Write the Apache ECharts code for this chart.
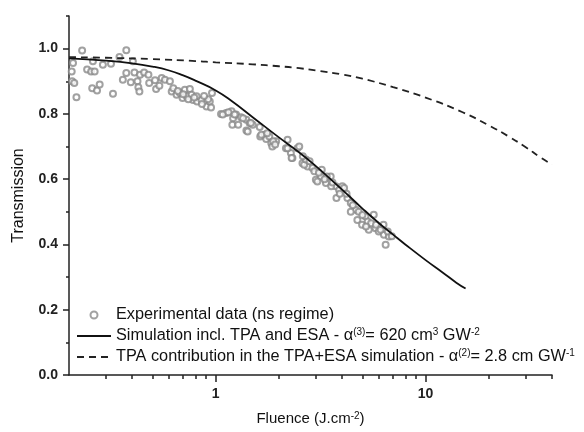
<!DOCTYPE html>
<html>
<head>
<meta charset="utf-8">
<script src="https://cdn.jsdelivr.net/npm/echarts@6/dist/echarts.min.js"></script>
<style>
  html, body { margin: 0; padding: 0; background: #fff; }
  #main { width: 584px; height: 432px; }
</style>
</head>
<body>
<div id="main"></div>
<script>
// experimental points (fluence in J/cm2, transmission)
let expFluence = [
  0.209, 0.206, 0.207, 0.212, 0.217, 0.231, 0.244, 0.255, 0.265, 0.258, 0.272, 0.28, 0.26, 0.29,
  0.317, 0.324, 0.348, 0.375, 0.361, 0.375, 0.394, 0.403, 0.41, 0.424, 0.428, 0.433, 0.436, 0.456,
  0.478, 0.482, 0.514, 0.52, 0.539, 0.553, 0.573, 0.605, 0.617, 0.628, 0.651, 0.675, 0.695, 0.713,
  0.727, 0.753, 0.767, 0.78, 0.815,
  0.96, 0.904, 0.937, 0.855, 0.81, 0.66, 0.70, 0.74, 0.79, 0.86, 0.92, 0.95, 0.88,
  1.06, 1.12, 1.19, 1.21, 1.2, 1.25, 1.32, 1.4, 1.4, 1.45, 1.5, 1.62, 1.63, 1.71, 1.74, 1.8, 1.84,
  1.94, 1.86, 2.2, 2.16, 2.28, 2.32, 2.45, 2.59, 2.74, 2.89, 3.0, 3.17, 3.35, 3.53, 3.73, 4.01,
  1.08, 1.15, 1.23, 1.28, 1.35, 1.42, 1.47, 1.65, 1.76, 1.88, 1.92, 2.2, 2.3, 2.5, 2.64, 2.69,
  2.95, 3.05, 3.2, 3.38, 3.55, 3.76, 3.87, 4.09, 4.24, 4.4, 4.73, 4.65, 4.98, 5.17, 5.36, 5.66,
  5.77, 5.98, 6.33, 6.45, 6.68,
  4.5, 4.8, 5.0, 5.3, 5.5, 5.8, 6.1, 6.3, 6.6, 6.9, 5.2, 4.4,
  2.6, 2.8, 3.1, 3.3, 3.6, 3.9, 4.2
];
let expTransmission = [
  0.956, 0.930, 0.900, 0.895, 0.851, 0.994, 0.936, 0.930, 0.930, 0.879, 0.872, 0.890, 0.961, 0.951,
  0.954, 0.862, 0.974, 0.995, 0.905, 0.925, 0.897, 0.961, 0.927, 0.900, 0.882, 0.869, 0.920, 0.927,
  0.920, 0.895, 0.903, 0.876, 0.886, 0.910, 0.905, 0.900, 0.869, 0.879, 0.859, 0.864, 0.849, 0.874,
  0.854, 0.876, 0.859, 0.843, 0.838,
  0.864, 0.823, 0.838, 0.843, 0.854, 0.870, 0.860, 0.845, 0.850, 0.830, 0.845, 0.820, 0.855,
  0.800, 0.803, 0.808, 0.787, 0.767, 0.798, 0.790, 0.782, 0.749, 0.772, 0.767, 0.760, 0.731, 0.736,
  0.723, 0.731, 0.710, 0.716, 0.700, 0.721, 0.695, 0.680, 0.665, 0.695, 0.649, 0.639, 0.634, 0.598,
  0.608, 0.588, 0.608, 0.578, 0.578,
  0.798, 0.805, 0.798, 0.767, 0.787, 0.746, 0.772, 0.736, 0.741, 0.716, 0.706, 0.695, 0.665, 0.700,
  0.644, 0.660, 0.624, 0.593, 0.629, 0.608, 0.578, 0.542, 0.567, 0.573, 0.542, 0.527, 0.475, 0.506,
  0.460, 0.486, 0.445, 0.491, 0.450, 0.440, 0.430, 0.399, 0.424,
  0.520, 0.500, 0.490, 0.470, 0.465, 0.460, 0.445, 0.460, 0.440, 0.425, 0.455, 0.500,
  0.670, 0.655, 0.620, 0.600, 0.590, 0.555, 0.555
];

// TPA + ESA simulation
let simFluence = [0.2, 0.3, 0.4, 0.5, 0.6, 0.7, 0.8, 1.0, 1.2, 1.5, 2.0, 2.5, 3.0, 4.0, 5.0, 6.0, 7.0, 8.0, 10, 12, 14, 15.5];
let simTransmission = [0.970, 0.963, 0.955, 0.945, 0.933, 0.918, 0.902, 0.872, 0.838, 0.790, 0.728, 0.682, 0.640, 0.568, 0.510, 0.465, 0.430, 0.400, 0.352, 0.315, 0.283, 0.265];

// TPA contribution only
let tpaFluence = [0.2, 0.3, 0.5, 0.8, 1.0, 1.5, 2.0, 2.5, 3.0, 4.0, 5.0, 7.0, 10, 15, 20, 25, 30, 35, 40];
let tpaTransmission = [0.974, 0.972, 0.968, 0.962, 0.958, 0.952, 0.946, 0.940, 0.933, 0.921, 0.908, 0.882, 0.850, 0.805, 0.765, 0.730, 0.698, 0.668, 0.645];

let xMajorTicks = [1, 10];
let xMinorTicks = [0.3, 0.4, 0.5, 0.6, 0.7, 0.8, 0.9, 2, 3, 4, 5, 6, 7, 8, 9, 20, 30, 40];
let yMajorTicks = [0, 0.2, 0.4, 0.6, 0.8, 1.0];
let yMinorTicks = [0.1, 0.3, 0.5, 0.7, 0.9, 1.1];

let legendNames = [
  'Experimental data (ns regime)',
  'Simulation incl. TPA and ESA - α{sup|(3)}= 620 cm{sup|3} GW{sup|-2}',
  'TPA contribution in the TPA+ESA simulation - α{sup|(2)}= 2.8 cm GW{sup|-1}'
];

function zip(a, b) {
  let out = [];
  for (let i = 0; i < a.length; i++) {
    out.push([a[i], b[i]]);
  }
  return out;
}

let font = 'Liberation Sans, Arial, sans-serif';
let supStyle = { fontSize: 10, lineHeight: 10, verticalAlign: 'top', color: '#111', fontFamily: font };

let myChart = echarts.init(document.getElementById('main'));
myChart.setOption({
  animation: false,
  backgroundColor: '#fff',
  grid: { left: 69, right: 32, top: 16, bottom: 57, outerBoundsMode: 'none' },
  legend: {
    orient: 'vertical',
    left: 76,
    top: 306,
    itemWidth: 34,
    itemHeight: 7,
    itemGap: 3,
    padding: 0,
    data: [
      { name: legendNames[0], icon: 'emptyCircle' },
      // hide the little symbol dot on the line items
      { name: legendNames[1], itemStyle: { opacity: 0 } },
      { name: legendNames[2], itemStyle: { opacity: 0 } }
    ],
    textStyle: {
      fontFamily: font,
      fontSize: 16.3,
      color: '#111',
      lineHeight: 18,
      rich: { sup: supStyle }
    }
  },
  xAxis: [
    {
      type: 'log',
      min: 0.2,
      max: 40,
      position: 'bottom',
      name: 'Fluence (J.cm{sup|-2})',
      nameLocation: 'middle',
      nameGap: 36,
      nameTextStyle: { fontFamily: font, fontSize: 15, color: '#111', rich: { sup: supStyle } },
      splitLine: { show: false },
      axisLine: { lineStyle: { color: '#222', width: 1.5 } },
      axisTick: { customValues: xMajorTicks, length: 7, lineStyle: { color: '#222', width: 1.5 } },
      axisLabel: { customValues: xMajorTicks, fontFamily: font, fontSize: 14, fontWeight: 'bold', color: '#222', margin: 12 }
    },
    {
      type: 'log',
      min: 0.2,
      max: 40,
      position: 'bottom',
      splitLine: { show: false },
      axisLine: { show: false },
      axisTick: { customValues: xMinorTicks, length: 4, lineStyle: { color: '#222', width: 1.5 } },
      axisLabel: { show: false }
    }
  ],
  yAxis: [
    {
      type: 'value',
      min: 0,
      max: 1.1,
      position: 'left',
      name: 'Transmission',
      nameLocation: 'middle',
      nameGap: 42,
      nameTextStyle: { fontFamily: font, fontSize: 16, color: '#111' },
      splitLine: { show: false },
      axisLine: { show: true, lineStyle: { color: '#222', width: 1.5 } },
      axisTick: { customValues: yMajorTicks, length: 6, lineStyle: { color: '#222', width: 1.5 } },
      axisLabel: {
        customValues: yMajorTicks,
        fontFamily: font, fontSize: 14, fontWeight: 'bold', color: '#222', margin: 11,
        formatter: function (v) { return v.toFixed(1); }
      }
    },
    {
      type: 'value',
      min: 0,
      max: 1.1,
      position: 'left',
      splitLine: { show: false },
      axisLine: { show: false },
      axisTick: { customValues: yMinorTicks, length: 3, lineStyle: { color: '#222', width: 1.5 } },
      axisLabel: { show: false }
    }
  ],
  series: [
    {
      name: legendNames[0],
      type: 'scatter',
      symbol: 'emptyCircle',
      symbolSize: 6,
      itemStyle: { color: '#8a8a8a', borderWidth: 1 },
      data: zip(expFluence, expTransmission)
    },
    {
      name: legendNames[1],
      type: 'line',
      smooth: true,
      symbol: 'none',
      lineStyle: { color: '#111', width: 1.8 },
      itemStyle: { color: '#111' },
      data: zip(simFluence, simTransmission)
    },
    {
      name: legendNames[2],
      type: 'line',
      smooth: true,
      symbol: 'none',
      lineStyle: { color: '#222', width: 1.8, type: [7, 5] },
      itemStyle: { color: '#222' },
      data: zip(tpaFluence, tpaTransmission)
    }
  ]
});
</script>
</body>
</html>
